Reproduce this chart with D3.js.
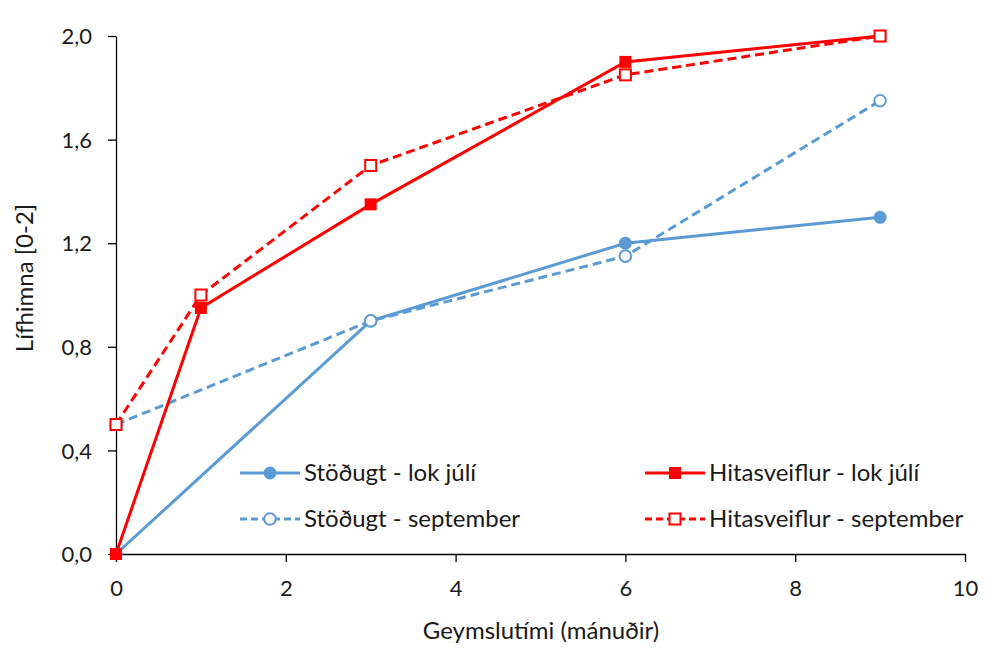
<!DOCTYPE html>
<html>
<head>
<meta charset="utf-8">
<script src="https://cdn.jsdelivr.net/npm/d3@7"></script>
<style>
  html, body { margin: 0; padding: 0; background: #fff; }
  svg { display: block; font-family: Lato, "Open Sans", sans-serif; }
</style>
</head>
<body>
<svg id="chart" width="992" height="663"></svg>
<script>
// Storage time (months) and membrane score per series
const monthsStable = [0, 3, 6, 9];
const stableJuly = [0, 0.9, 1.2, 1.3];
const stableSept = [0.5, 0.9, 1.15, 1.75];
const monthsFluct = [0, 1, 3, 6, 9];
const fluctJuly = [0, 0.95, 1.35, 1.9, 2.0];
const fluctSept = [0.5, 1.0, 1.5, 1.85, 2.0];

const xTicks = [0, 2, 4, 6, 8, 10];
const yTicks = [0, 0.4, 0.8, 1.2, 1.6, 2.0];

const blue = "#5B9BD5", red = "#FF0000";
const textColor = "#1a1a1a";

const series = [
  { name: "Stöðugt - lok júlí", x: monthsStable, y: stableJuly, color: blue, dash: null, shape: "circle", filled: true },
  { name: "Hitasveiflur - lok júlí", x: monthsFluct, y: fluctJuly, color: red, dash: null, shape: "square", filled: true },
  { name: "Stöðugt - september", x: monthsStable, y: stableSept, color: blue, dash: "9,5", shape: "circle", filled: false },
  { name: "Hitasveiflur - september", x: monthsFluct, y: fluctSept, color: red, dash: "9,5", shape: "square", filled: false }
];

const svg = d3.select("#chart");
const x = d3.scaleLinear().domain([0, 10]).range([116, 965]);
const y = d3.scaleLinear().domain([0, 2]).range([554, 36]);
const fmt = d => d3.format(".1f")(d).replace(".", ",");

// Axes
const gx = svg.append("g").attr("transform", "translate(0,554)")
  .call(d3.axisBottom(x).tickValues(xTicks).tickSize(8).tickSizeOuter(0));
const gy = svg.append("g").attr("transform", "translate(116,0)")
  .call(d3.axisLeft(y).tickValues(yTicks).tickFormat(fmt).tickSize(8).tickSizeOuter(0));
[gx, gy].forEach(g => {
  g.select(".domain").attr("stroke", "#000").attr("stroke-width", 1.3);
  g.selectAll(".tick line").attr("stroke", "#000").attr("stroke-width", 1.3);
  g.selectAll(".tick text").attr("fill", textColor)
    .style("font-size", "22px").style("font-family", "Lato, sans-serif");
});
gx.selectAll(".tick text").attr("y", 34).attr("dy", "0.35em");
gy.selectAll(".tick text").attr("x", -24).attr("dy", "0.35em");

// Axis titles
svg.append("text").attr("x", 541).attr("y", 631).attr("dy", "0.35em").attr("text-anchor", "middle")
  .style("font-size", "24px").attr("fill", textColor).text("Geymslutími (mánuðir)");
svg.append("text").attr("transform", "translate(25,278) rotate(-90)").attr("dy", "0.35em")
  .attr("text-anchor", "middle")
  .style("font-size", "24px").attr("fill", textColor).text("Lífhimna [0-2]");

const line = d3.line().x(d => x(d[0])).y(d => y(d[1]));

function marker(g, shape, filled, color, cx, cy) {
  if (shape === "circle") {
    g.append("circle").attr("cx", cx).attr("cy", cy).attr("r", filled ? 6.5 : 5.8)
      .attr("fill", filled ? color : "#fff").attr("stroke", color).attr("stroke-width", filled ? 0 : 2);
  } else {
    const s = filled ? 12 : 11;
    g.append("rect").attr("x", cx - s / 2).attr("y", cy - s / 2).attr("width", s).attr("height", s)
      .attr("fill", filled ? color : "#fff").attr("stroke", color).attr("stroke-width", filled ? 0 : 2);
  }
}

// Draw order: blue series first, red on top
const order = [series[0], series[2], series[1], series[3]];
order.forEach(s => {
  const pts = s.x.map((v, i) => [v, s.y[i]]);
  const g = svg.append("g");
  g.append("path").datum(pts).attr("d", line).attr("fill", "none")
    .attr("stroke", s.color).attr("stroke-width", 3)
    .attr("stroke-dasharray", s.dash);
  pts.forEach(p => marker(g, s.shape, s.filled, s.color, x(p[0]), y(p[1])));
});

// Legend
const legendPos = [[240, 473], [645, 473], [240, 519], [645, 519]];
series.forEach((s, i) => {
  const [lx, ly] = legendPos[i];
  const g = svg.append("g");
  g.append("line").attr("x1", lx).attr("x2", lx + 60).attr("y1", ly).attr("y2", ly)
    .attr("stroke", s.color).attr("stroke-width", 3).attr("stroke-dasharray", s.dash ? "7,4" : null);
  marker(g, s.shape, s.filled, s.color, lx + 30, ly);
  g.append("text").attr("x", lx + 64).attr("y", ly).attr("dy", "0.35em")
    .style("font-size", "24px").attr("fill", textColor).text(s.name);
});
</script>
</body>
</html>
